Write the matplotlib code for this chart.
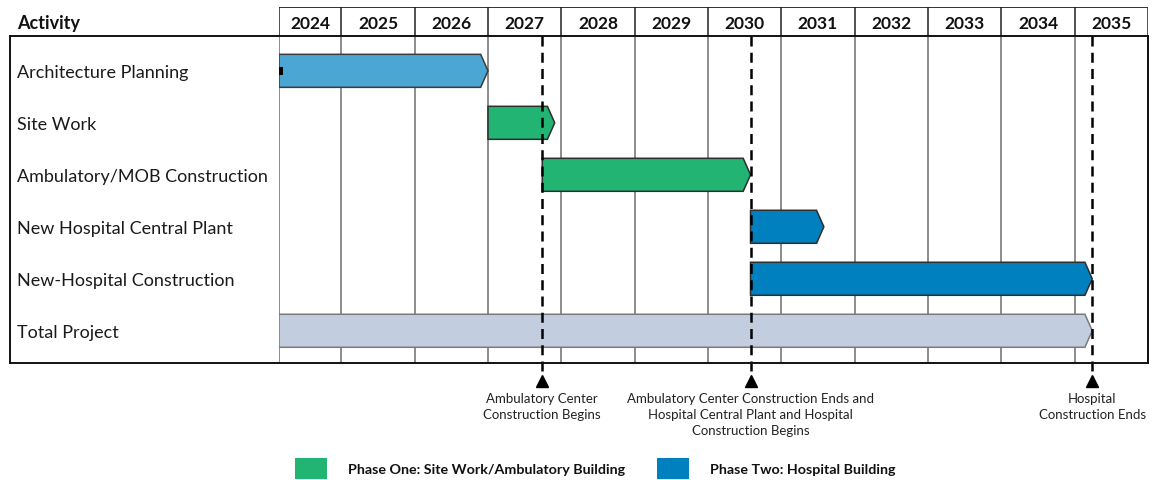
import matplotlib.pyplot as plt
from matplotlib.patches import Polygon, Rectangle
from matplotlib.lines import Line2D
from matplotlib.transforms import blended_transform_factory

plt.rcParams['font.family'] = ['Lato', 'DejaVu Sans']

# schedule data (fractional years)
activities = ["Architecture Planning", "Site Work", "Ambulatory/MOB Construction",
              "New Hospital Central Plant", "New-Hospital Construction", "Total Project"]
starts = [2024.15, 2027.0, 2027.74, 2030.58, 2030.58, 2024.15]
ends = [2027.0, 2027.91, 2030.58, 2031.58, 2035.24, 2035.24]
bar_colors = ["#4BA6D3", "#21B472", "#21B472", "#0080BE", "#0080BE", "#C3CDE0"]
edge_colors = ["#3C3C3C", "#2E2E2E", "#2E2E2E", "#2E2E2E", "#2E2E2E", "#7A7A7A"]

years = list(range(2024, 2036))
first_col_start = 2024.15

milestones = [2027.74, 2030.58, 2035.24]
milestone_labels = ["Ambulatory Center\nConstruction Begins",
                    "Ambulatory Center Construction Ends and\nHospital Central Plant and Hospital\nConstruction Begins",
                    "Hospital\nConstruction Ends"]

legend_labels = ["Phase One: Site Work/Ambulatory Building", "Phase Two: Hospital Building"]
legend_colors = ["#21B472", "#0080BE"]

W, H = 1156, 481
fig = plt.figure(figsize=(W / 100, H / 100), dpi=100)


def fx(px):
    return px / W


def fy(py):
    return 1 - py / H


# body of the chart
ax = fig.add_axes([fx(279), fy(364), fx(1148) - fx(279), fy(37) - fy(364)])
ax.set_xlim(first_col_start, years[-1] + 1)
ax.set_ylim(5.62, -0.67)
ax.axis('off')

# header row with the years
hax = fig.add_axes([fx(279), fy(37), fx(1148) - fx(279), fy(8) - fy(37)], sharex=ax)
hax.set_ylim(0, 1)
hax.axis('off')

edges = [first_col_start] + years[1:] + [years[-1] + 1]
for i, yr in enumerate(years):
    left, right = edges[i], edges[i + 1]
    hax.text((left + right) / 2, 0.45, str(yr), ha='center', va='center',
             fontsize=12.5, fontweight='bold', color='#111111')
for e in edges:
    hax.axvline(e, color='#222222', lw=1.1)
    ax.axvline(e, color='#6E6E6E', lw=1.1, zorder=0)
hax.axhline(1, color='#222222', lw=1.3)

# outer table lines
for (x0, y0, x1, y1) in [(10, 37, 1148, 37), (10, 364, 1148, 364),
                         (10, 37, 10, 364), (1148, 37, 1148, 364)]:
    fig.add_artist(Line2D([fx(x0), fx(x1)], [fy(y0), fy(y1)],
                          color='#111111', lw=1.4, transform=fig.transFigure))

fig.text(fx(17), fy(23), "Activity", ha='left', va='center',
         fontsize=13, fontweight='bold', color='#111111')

# activity labels and arrow bars
label_tr = blended_transform_factory(fig.transFigure, ax.transData)
bar_h = 0.635
tip = 0.1
for i, (name, s, e, c, ec) in enumerate(zip(activities, starts, ends, bar_colors, edge_colors)):
    ax.text(fx(17), i + 0.02, name, transform=label_tr, ha='left', va='center',
            fontsize=13, color='#1A1A1A')
    pts = [(s, i - bar_h / 2), (e - tip, i - bar_h / 2), (e, i),
           (e - tip, i + bar_h / 2), (s, i + bar_h / 2)]
    ax.add_patch(Polygon(pts, closed=True, facecolor=c, edgecolor=ec, lw=1.1, zorder=2))

# small start marker on the first bar
ax.add_patch(Rectangle((starts[0], -0.08), 0.05, 0.16, facecolor='black', zorder=3))

# milestones
for m, lab in zip(milestones, milestone_labels):
    ax.plot([m, m], [-0.67, 5.83], color='black', lw=1.8, ls=(0, (4, 2.5)),
            clip_on=False, zorder=4)
    ax.plot([m], [5.97], marker='^', ms=9, color='black', clip_on=False, zorder=4)
    ax.text(m, 6.17, lab, ha='center', va='top', fontsize=9.5, color='#222222',
            linespacing=1.42, clip_on=False)

# legend
for (x0, x_text), lab, c in zip([(295, 348), (657, 710)], legend_labels, legend_colors):
    fig.add_artist(Rectangle((fx(x0), fy(480)), fx(32), 21 / H, facecolor=c,
                             edgecolor='none', transform=fig.transFigure))
    fig.text(fx(x_text), fy(470), lab, ha='left', va='center', fontsize=10.3,
             fontweight='bold', color='#111111')

fig.savefig("out.png", dpi=100)
